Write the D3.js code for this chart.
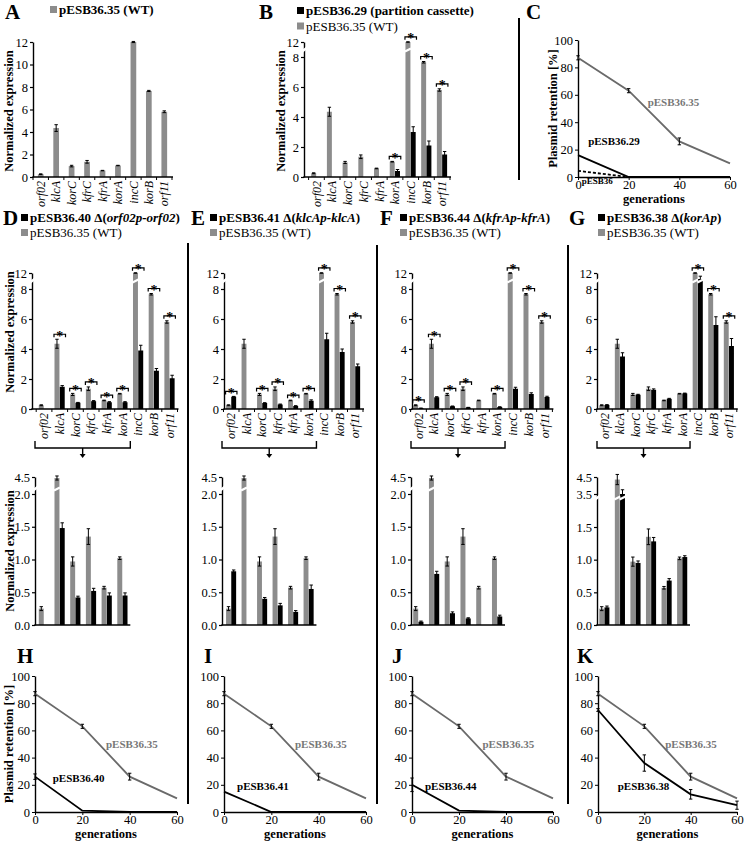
<!DOCTYPE html>
<html><head><meta charset="utf-8">
<script src="https://cdn.jsdelivr.net/npm/d3@7"></script>
<style>
body{margin:0;background:#fff}
svg text{font-family:"Liberation Serif","Times New Roman",serif}
</style></head><body>
<svg id="fig" width="744" height="845"></svg>
<script>
// ---------------- DATA ----------------
const categories = ["orf02","klcA","korC","kfrC","kfrA","korA","incC","korB","orf11"];
const wtExpr  = [0.25, 4.35, 0.97, 1.35, 0.57, 1.02, 12.0, 7.65, 5.8];
const wtErr   = [0.03, 0.30, 0.07, 0.12, 0.02, 0.02, 0.05, 0.05, 0.08];
const p29Expr = [null, null, null, null, null, 0.40, 3.0, 2.1, 1.5];
const p29Err  = [null, null, null, null, null, 0.10, 0.35, 0.30, 0.20];
const p40Expr = [null, 1.48, 0.42, 0.52, 0.45, 0.45, 3.9, 2.55, 2.05];
const p40Err  = [null, 0.08, 0.02, 0.04, 0.04, 0.04, 0.35, 0.15, 0.20];
const p41Expr = [0.82, null, 0.40, 0.30, 0.20, 0.55, 4.65, 3.8, 2.85];
const p41Err  = [0.02, null, 0.02, 0.03, 0.02, 0.06, 0.40, 0.20, 0.15];
const p44Expr = [0.05, 0.78, 0.18, 0.10, null, 0.13, 1.35, 1.0, 0.8];
const p44Err  = [0.01, 0.04, 0.02, 0.01, null, 0.02, 0.10, 0.08, 0.05];
const p38Expr = [0.27, 3.5, 0.95, 1.28, 0.68, 1.04, 10.5, 5.6, 4.2];
const p38Err  = [0.02, 0.25, 0.03, 0.06, 0.03, 0.02, 0.7, 0.55, 0.5];

const starsB = ["korA","incC","korB","orf11"];
const starsD = ["klcA","korC","kfrC","kfrA","korA","incC","korB","orf11"];
const starsE = ["orf02","korC","kfrC","kfrA","korA","incC","korB","orf11"];
const starsF = ["orf02","klcA","korC","kfrC","korA","incC","korB","orf11"];
const starsG = ["incC","korB","orf11"];

const ticksA   = [0,2,4,6,8,10,12];
const ticksTop = [0,2,4,6,8,12];
const ticksLow = [0,0.5,1.0,1.5,2.0,4.5];
const ticksLowG= [0,0.5,1.0,1.5,3.5,4.5];
const ticksRet = [0,20,40,60,80,100];

const generations = [0,20,40,60];
const wtRet    = [87, 63, 26, 10];
const wtRetErr = [1.5, 1.5, 2.5, 0.5];
const p29Ret   = [16, 0, 0, 0];
const p36Ret   = [4.5, 0, 0, 0];
const p40Ret   = [26, 1, 0, 0];
const p40RetErr= [2, 0, 0, 0];
const p41Ret   = [15, 0, 0, 0];
const p44Ret   = [20, 1, 0, 0];
const p44RetErr= [5, 0, 0, 0];
const p38Ret   = [75, 36, 13, 5];
const p38RetErr= [1, 6, 3.5, 3];

// ---------------- DRAWING ----------------
const svg = d3.select("#fig");
const BLACK = "#000", GRAY = "#8c8c8c", LINEGRAY = "#6a6a6a", TEXTGRAY = "#777";
const FONT = "Liberation Serif, Times New Roman, serif";

function letter(t, x, y) {
  svg.append("text").attr("x", x).attr("y", y).attr("font-size", 21)
    .attr("font-weight", "bold").text(t);
}
function legendRow(x, y, color, parts, bold) {
  svg.append("rect").attr("x", x).attr("y", y - 8).attr("width", 7).attr("height", 7).attr("fill", color);
  const t = svg.append("text").attr("x", x + 9).attr("y", y).attr("font-size", 13)
    .attr("font-weight", bold ? "bold" : "normal");
  parts.forEach(p => t.append("tspan").attr("font-style", p.i ? "italic" : "normal").text(p.t));
}
function yTitle(text, x, yc) {
  svg.append("text").attr("transform", `translate(${x},${yc}) rotate(-90)`)
    .attr("text-anchor", "middle").attr("dy", "0.35em")
    .attr("font-size", 12.5).attr("font-weight", "bold").text(text);
}
function errBar(g, cx, yTop, yBot) {
  g.append("path").attr("d", `M${cx},${yTop}V${yBot}M${cx-1.7},${yTop}H${cx+1.7}M${cx-1.7},${yBot}H${cx+1.7}`)
    .attr("stroke", BLACK).attr("stroke-width", 1).attr("fill", "none");
}

function barPanel(c) {
  const g = svg.append("g");
  const x = d3.scaleBand().domain(categories).range([c.x0, c.x1]).paddingInner(0.33).paddingOuter(0.165);
  const y = d3.scaleLinear().domain(c.yDom).range(c.yRng);
  const bwid = x.bandwidth();
  const half = bwid / 2;
  const idx = d3.range(c.n);
  const y0 = y(0);
  const w = c.single ? c.sw : half - 0.3;
  const gxf = i => c.single ? x(categories[i]) + (bwid - c.sw) / 2 : x(categories[i]);
  const bxf = i => x(categories[i]) + half;

  g.selectAll("rect.g").data(idx).join("rect").attr("class", "g")
    .attr("x", gxf).attr("y", i => y(wtExpr[i])).attr("width", w)
    .attr("height", i => y0 - y(wtExpr[i])).attr("fill", GRAY);
  const bIdx = c.black ? idx.filter(i => c.black[i] != null) : [];
  g.selectAll("rect.b").data(bIdx).join("rect").attr("class", "b")
    .attr("x", bxf).attr("y", i => y(c.black[i])).attr("width", w)
    .attr("height", i => y0 - y(c.black[i])).attr("fill", BLACK);

  idx.forEach(i => {
    errBar(g, gxf(i) + w / 2, y(wtExpr[i] + wtErr[i]), y(Math.max(0, wtExpr[i] - wtErr[i])));
  });
  bIdx.forEach(i => {
    errBar(g, bxf(i) + w / 2, y(c.black[i] + c.blackErr[i]), y(Math.max(0, c.black[i] - c.blackErr[i])));
  });

  if (c.breakVal != null) {
    const by = c.breakY;
    const slash = bx => g.append("line").attr("x1", bx - 0.5).attr("y1", by + 1.5).attr("x2", bx + w + 0.5).attr("y2", by - 1.5)
      .attr("stroke", "#fff").attr("stroke-width", 2.2);
    idx.forEach(i => { if (wtExpr[i] > c.breakVal) slash(gxf(i)); });
    bIdx.forEach(i => { if (c.black[i] > c.breakVal) slash(bxf(i)); });
  }

  const ax = g.append("g").attr("transform", `translate(${c.axisX},0)`)
    .call(d3.axisLeft(y).tickValues(c.ticks).tickFormat(c.fmt).tickSize(3).tickSizeOuter(0).tickPadding(2));
  ax.attr("font-family", FONT).attr("font-size", 12.5);
  ax.select(".domain").attr("stroke-width", 1.4);
  ax.selectAll(".tick line").attr("stroke-width", 1.2);
  ax.selectAll("text").attr("fill", BLACK);
  if (c.breakVal != null) {
    g.append("line").attr("x1", c.axisX - 2.5).attr("y1", c.breakY + 2).attr("x2", c.axisX + 2.5).attr("y2", c.breakY - 2)
      .attr("stroke", "#fff").attr("stroke-width", 2.4);
  }

  const xEnd = c.n === categories.length ? c.x1 + 1 : x(categories[c.n - 1]) + bwid + 2.5;
  g.append("line").attr("x1", c.axisX - 0.7).attr("x2", xEnd).attr("y1", y0).attr("y2", y0)
    .attr("stroke", BLACK).attr("stroke-width", 1.4);
  if (c.labels) {
    d3.range(c.n + 1).forEach(k => {
      const xb = k < c.n ? x(categories[k]) - x.step() * 0.165 : x(categories[c.n - 1]) + bwid + x.step() * 0.165;
      g.append("line").attr("x1", xb).attr("x2", xb).attr("y1", y0).attr("y2", y0 + 3)
        .attr("stroke", BLACK).attr("stroke-width", 1);
    });
  }

  (c.stars || []).forEach(cat => {
    const i = categories.indexOf(cat);
    let top = wtExpr[i] + wtErr[i];
    if (c.black && c.black[i] != null) top = Math.max(top, c.black[i] + c.blackErr[i]);
    const yb = y(top) - 5;
    const xa = x(cat) - 0.5, xb = x(cat) + bwid + 0.5;
    g.append("path").attr("d", `M${xa},${yb + 3}V${yb}H${xb}V${yb + 3}`)
      .attr("fill", "none").attr("stroke", BLACK).attr("stroke-width", 1.2);
    g.append("text").attr("x", (xa + xb) / 2).attr("y", yb + 6.5).attr("text-anchor", "middle")
      .attr("font-size", 14).attr("font-weight", "bold").attr("fill", BLACK)
      .style("font-family", FONT).text("*");
  });

  if (c.labels) {
    idx.forEach(i => {
      const cx = x(categories[i]) + bwid / 2;
      g.append("text").attr("transform", `translate(${cx},${y0 + 4}) rotate(-90)`)
        .attr("text-anchor", "end").attr("dy", "0.35em").attr("font-size", 12)
        .attr("font-style", "italic").text(categories[i]);
    });
  }
  return {x, y};
}

function groupBracket(xa, xb, yLine) {
  const xm = (xa + xb) / 2;
  svg.append("path").attr("d", `M${xa},${yLine - 7}V${yLine}H${xb}V${yLine - 7}M${xm},${yLine}V${yLine + 7}`)
    .attr("fill", "none").attr("stroke", BLACK).attr("stroke-width", 1.4);
  svg.append("path").attr("d", `M${xm - 3},${yLine + 6}L${xm + 3},${yLine + 6}L${xm},${yLine + 10}Z`).attr("fill", BLACK);
}

function retPanel(c) {
  const g = svg.append("g");
  const x = d3.scaleLinear().domain([0, 60]).range([c.axisX, c.xEnd]);
  const y = d3.scaleLinear().domain([0, 100]).range([c.y0, c.y100]);
  const ay = g.append("g").attr("transform", `translate(${c.axisX},0)`)
    .call(d3.axisLeft(y).tickValues(ticksRet).tickSize(3).tickSizeOuter(0).tickPadding(2));
  const axb = g.append("g").attr("transform", `translate(0,${c.y0})`)
    .call(d3.axisBottom(x).tickValues(generations).tickSize(3).tickSizeOuter(0).tickPadding(0));
  [ay, axb].forEach(a => {
    a.attr("font-family", FONT).attr("font-size", 12.5);
    a.select(".domain").attr("stroke-width", 1.4);
    a.selectAll("text").attr("fill", BLACK);
  });
  const line = d3.line().x((d, i) => x(generations[i])).y(d => y(d));
  c.series.forEach(s => {
    g.append("path").attr("d", line(s.vals)).attr("fill", "none").attr("stroke", s.color)
      .attr("stroke-width", 1.8).attr("stroke-dasharray", s.dash || null);
    if (s.errs) s.vals.forEach((v, i) => {
      if (s.errs[i] > 0.9) errBar(g, x(generations[i]), y(v + s.errs[i]), y(v - s.errs[i]));
    });
  });
  c.labels.forEach(l => {
    g.append("text").attr("x", x(l.gen)).attr("y", y(l.val)).attr("font-size", l.size || 11)
      .attr("font-weight", "bold").attr("fill", l.color).text(l.text);
  });
  g.append("text").attr("x", (c.axisX + c.xEnd) / 2).attr("y", c.y0 + 26).attr("text-anchor", "middle")
    .attr("font-size", 12.5).attr("font-weight", "bold").text("generations");
  if (c.titleX != null) yTitle("Plasmid retention [%]", c.titleX, (c.y0 + c.y100) / 2);
}

const fmtInt = d3.format("d"), fmt1 = d3.format(".1f");

// ----- Row 1 -----
letter("A", 5, 19);
legendRow(50, 14, GRAY, [{t: "pESB36.35 (WT)"}], true);
yTitle("Normalized expression", 9, 111);
barPanel({n: 9, x0: 33, x1: 172, axisX: 33, yDom: [0, 12], yRng: [177, 42], ticks: ticksA, fmt: fmtInt,
  single: true, sw: 5.7, labels: true});

letter("B", 259, 19);
legendRow(297, 15, BLACK, [{t: "pESB36.29 (partition cassette)"}], true);
legendRow(297, 30.5, GRAY, [{t: "pESB36.35 (WT)"}], false);
yTitle("Normalized expression", 281, 111);
barPanel({n: 9, x0: 308.6, x1: 450, axisX: 304, yDom: [0, 8, 12], yRng: [177, 57, 42], ticks: ticksTop, fmt: fmtInt,
  black: p29Expr, blackErr: p29Err, stars: starsB, breakVal: 8, breakY: 50, labels: true});

svg.append("line").attr("x1", 519).attr("x2", 519).attr("y1", 18).attr("y2", 180).attr("stroke", BLACK).attr("stroke-width", 2);
letter("C", 526, 19);
retPanel({axisX: 578, xEnd: 730, y0: 177, y100: 40, titleX: 553,
  series: [{vals: wtRet, errs: wtRetErr, color: LINEGRAY}, {vals: p29Ret, color: BLACK}, {vals: p36Ret, color: BLACK, dash: "3,2"}],
  labels: [{text: "pESB36.35", gen: 27.5, val: 52, color: TEXTGRAY}, {text: "pESB36.29", gen: 4, val: 23, color: BLACK},
           {text: "pESB36", gen: 1.5, val: -5, color: BLACK, size: 9}]});

// ----- Row 2 & 3 -----
const mutants = [
  {L: "D", lx: 3, sq: 21, name: [{t: "pESB36.40 Δ("}, {t: "orf02p-orf02", i: true}, {t: ")"}],
   top: {x0: 36.2, x1: 177.5, axisX: 32}, lowAxis: 35, black: p40Expr, err: p40Err, stars: starsD, title: true},
  {L: "E", lx: 191, sq: 210, name: [{t: "pESB36.41 Δ("}, {t: "klcAp-klcA", i: true}, {t: ")"}],
   top: {x0: 223.5, x1: 363, axisX: 224}, lowAxis: 222, black: p41Expr, err: p41Err, stars: starsE},
  {L: "F", lx: 380, sq: 400, name: [{t: "pESB36.44 Δ("}, {t: "kfrAp-kfrA", i: true}, {t: ")"}],
   top: {x0: 410.6, x1: 552.4, axisX: 412}, lowAxis: 411, black: p44Expr, err: p44Err, stars: starsF},
  {L: "G", lx: 569, sq: 598, name: [{t: "pESB36.38 Δ("}, {t: "korAp", i: true}, {t: ")"}],
   top: {x0: 596.7, x1: 736.8, axisX: 597}, lowAxis: 597, black: p38Expr, err: p38Err, stars: starsG, g: true}
];

mutants.forEach(m => {
  letter(m.L, m.lx, 225);
  legendRow(m.sq, 222, BLACK, m.name, true);
  legendRow(m.sq, 237, GRAY, [{t: "pESB36.35 (WT)"}], false);
  barPanel({n: 9, x0: m.top.x0, x1: m.top.x1, axisX: m.top.axisX, yDom: [0, 8, 12], yRng: [409, 289, 273],
    ticks: ticksTop, fmt: fmtInt, black: m.black, blackErr: m.err, stars: m.stars, breakVal: 8, breakY: 281, labels: true});
  const low = barPanel({n: 6, x0: m.top.x0, x1: m.top.x1, axisX: m.lowAxis,
    yDom: m.g ? [0, 1.5, 3.5, 4.5] : [0, 2, 4.5], yRng: m.g ? [625, 527, 494, 477] : [625, 494, 477],
    ticks: m.g ? ticksLowG : ticksLow, fmt: fmt1, black: m.black, blackErr: m.err,
    breakVal: m.g ? 3.3 : 2.0, breakY: m.g ? 498 : 489, labels: false});
  groupBracket(m.lowAxis, low.x("korA") + low.x.bandwidth() + 2.5, 448);
  if (m.title) { yTitle("Normalized expression", 10, 332); yTitle("Normalized expression", 10, 551); }
});

[[188, 243], [377, 245], [568, 245]].forEach(([sx, sy]) => {
  svg.append("line").attr("x1", sx).attr("x2", sx).attr("y1", sy).attr("y2", 804).attr("stroke", BLACK).attr("stroke-width", 2);
});

// ----- Row 4 -----
const gray35 = {vals: wtRet, errs: wtRetErr, color: LINEGRAY};
letter("H", 17, 663);
retPanel({axisX: 35, xEnd: 177, y0: 812, y100: 676, titleX: 9,
  series: [gray35, {vals: p40Ret, errs: p40RetErr, color: BLACK}],
  labels: [{text: "pESB36.35", gen: 30, val: 47, color: TEXTGRAY}, {text: "pESB36.40", gen: 7.5, val: 22, color: BLACK}]});
letter("I", 204, 663);
retPanel({axisX: 224, xEnd: 366, y0: 812, y100: 676,
  series: [gray35, {vals: p41Ret, color: BLACK}],
  labels: [{text: "pESB36.35", gen: 30, val: 47, color: TEXTGRAY}, {text: "pESB36.41", gen: 5.5, val: 16, color: BLACK}]});
letter("J", 392, 663);
retPanel({axisX: 412, xEnd: 553, y0: 812, y100: 676,
  series: [gray35, {vals: p44Ret, errs: p44RetErr, color: BLACK}],
  labels: [{text: "pESB36.35", gen: 30, val: 47, color: TEXTGRAY}, {text: "pESB36.44", gen: 5.5, val: 16, color: BLACK}]});
letter("K", 577, 663);
retPanel({axisX: 598, xEnd: 737, y0: 812, y100: 676,
  series: [gray35, {vals: p38Ret, errs: p38RetErr, color: BLACK}],
  labels: [{text: "pESB36.35", gen: 29, val: 47, color: TEXTGRAY}, {text: "pESB36.38", gen: 8.5, val: 16, color: BLACK}]});
</script>
</body></html>
